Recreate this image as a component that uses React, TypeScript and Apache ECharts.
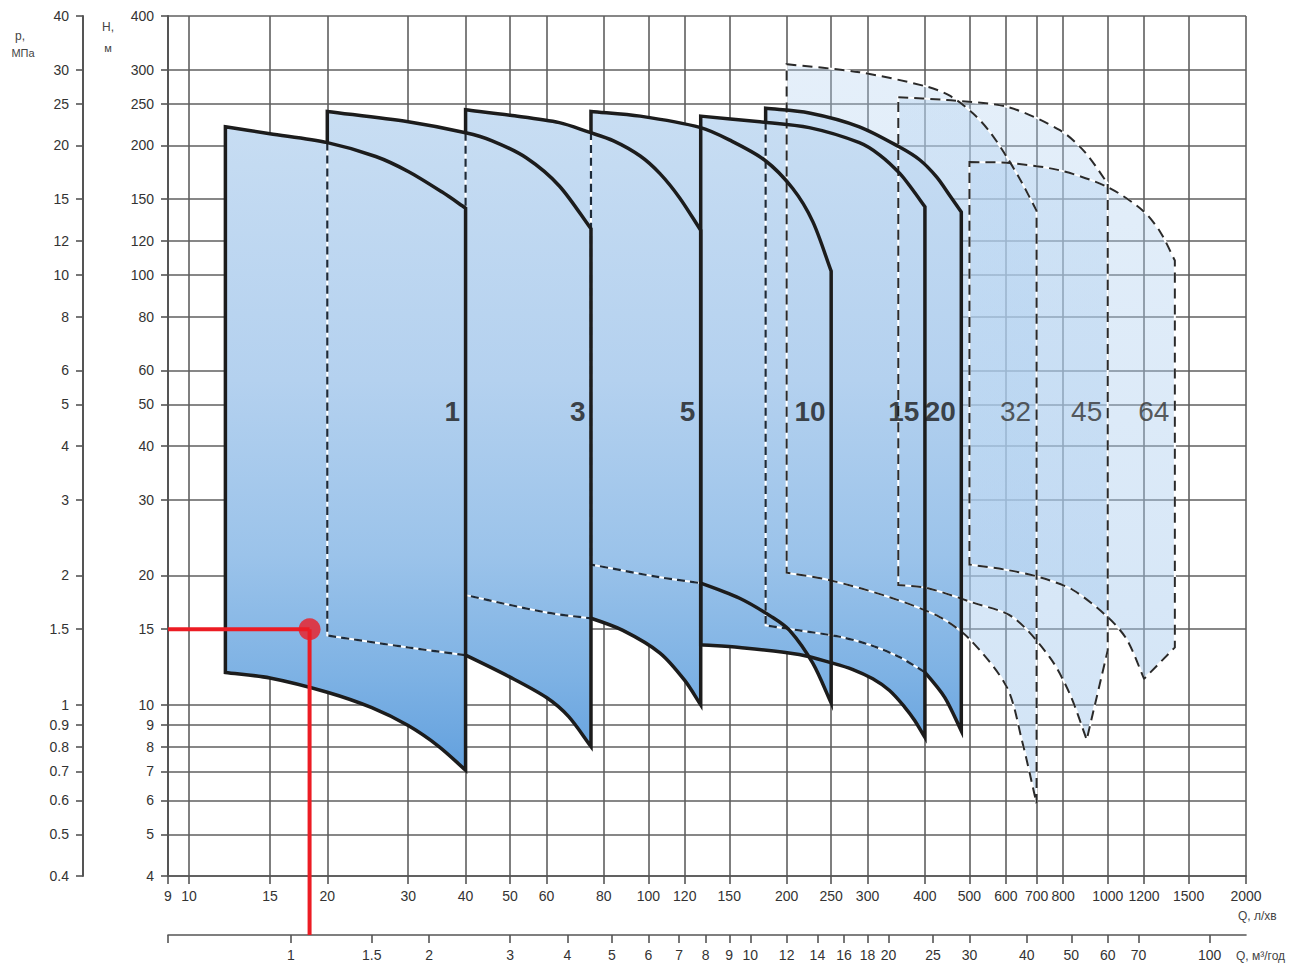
import React, { useEffect, useRef } from 'react';
import * as echarts from 'echarts';

// ---------- axes ----------
const qLpmTicks = [9, 10, 15, 20, 30, 40, 50, 60, 80, 100, 120, 150, 200, 250, 300, 400, 500, 600, 700, 800, 1000, 1200, 1500, 2000];
const qM3hTicks = [1, 1.5, 2, 3, 4, 5, 6, 7, 8, 9, 10, 12, 14, 16, 18, 20, 25, 30, 40, 50, 60, 70, 100];
const hTicks = [4, 5, 6, 7, 8, 9, 10, 15, 20, 30, 40, 50, 60, 80, 100, 120, 150, 200, 250, 300, 400];
const pTicks = [0.4, 0.5, 0.6, 0.7, 0.8, 0.9, 1, 1.5, 2, 3, 4, 5, 6, 8, 10, 12, 15, 20, 25, 30, 40];

const qLpmRange = [9, 2000];
const qM3hRange = [0.54, 120];
const hRange = [4, 400];
const pRange = [0.4, 40];

// ---------- pump fields: [Q l/min, H m] ----------
const pumpNames = ['1', '3', '5', '10', '15', '20', '32', '45', '64'];

const top1 = [[12, 221], [15, 213], [20, 203], [25.5, 188.5], [30, 174], [35.5, 156], [40, 143]];
const bottom1 = [[12, 11.9], [15, 11.55], [20, 10.7], [25, 9.85], [30, 8.95], [35, 8.0], [40, 7.05]];
const top3 = [[20, 240], [30, 227], [40, 214], [45.7, 205], [54.3, 187], [64, 161], [75, 128]];
const bottom3 = [[20, 14.5], [30, 13.6], [40, 13.05], [50, 11.6], [60, 10.4], [67, 9.4], [75, 8.0]];
const top5 = [[40, 242], [50, 235], [64, 226], [74, 215], [84, 205], [96, 189], [106, 172], [117, 151], [130, 127]];
const bottom5 = [[40, 18.0], [60, 16.4], [75, 15.9], [88, 14.9], [106, 13.2], [120, 11.4], [130, 10.0]];
const top10 = [[75, 240], [96, 234], [130, 220], [150, 206], [179, 185], [206, 159], [228, 133], [250, 102]];
const bottom10 = [[75, 21.2], [106, 19.8], [130, 19.2], [158, 17.7], [186, 16.0], [203, 14.9], [228, 12.5], [250, 10.1]];
const top15 = [[130, 234], [175, 227], [224, 220], [288, 203], [319, 190], [353, 172], [374, 159], [400, 144]];
const bottom15 = [[130, 13.8], [158, 13.6], [213, 13.1], [252, 12.5], [278, 12.1], [308, 11.5], [335, 10.8], [361, 9.9], [380, 9.2], [400, 8.4]];
const top20 = [[180, 244], [224, 238], [288, 221], [353, 198], [390, 185], [424, 169], [453, 153], [480, 140]];
const bottom20 = [[180, 15.3], [213, 14.9], [261, 14.4], [303, 13.8], [353, 12.9], [400, 11.9], [442, 10.4], [480, 8.7]];
const top32 = [[200, 309], [288, 296], [404, 274], [453, 261], [508, 238], [554, 215], [603, 188], [650, 164], [700, 141]];
const bottom32 = [[200, 20.3], [248, 19.5], [335, 17.8], [431, 16.0], [501, 14.2], [603, 11.0], [650, 8.3], [700, 5.9]];
const top45 = [[350, 259], [446, 255], [603, 246], [787, 217], [892, 193], [1000, 163]];
const bottom45 = [[350, 19.0], [404, 18.7], [508, 17.3], [621, 16.0], [748, 12.9], [827, 10.6], [900, 8.3], [1000, 13.4]];
const top64 = [[500, 183], [612, 182], [787, 175], [1000, 160], [1193, 141], [1300, 126], [1400, 108]];
const bottom64 = [[500, 21.2], [603, 20.6], [712, 19.8], [840, 18.5], [1000, 16.0], [1100, 14.2], [1200, 11.5], [1400, 13.6]];

const labelH = 48;
const operatingPoint = [18.3, 15];

// ---------- structure ----------
type Pt = number[];
interface Pump { name: string; top: Pt[]; bottom: Pt[]; light: boolean; leftSplitH: number | null; bottomSplit: number; vIndex: number | null; }

const pumps: Pump[] = [
  { name: pumpNames[0], top: top1, bottom: bottom1, light: false, leftSplitH: null, bottomSplit: 0, vIndex: null },
  { name: pumpNames[1], top: top3, bottom: bottom3, light: false, leftSplitH: top1[2][1], bottomSplit: 2, vIndex: null },
  { name: pumpNames[2], top: top5, bottom: bottom5, light: false, leftSplitH: top3[2][1], bottomSplit: 2, vIndex: null },
  { name: pumpNames[3], top: top10, bottom: bottom10, light: false, leftSplitH: top5[3][1], bottomSplit: 2, vIndex: null },
  { name: pumpNames[4], top: top15, bottom: bottom15, light: false, leftSplitH: null, bottomSplit: 0, vIndex: null },
  { name: pumpNames[5], top: top20, bottom: bottom20, light: false, leftSplitH: top15[1][1], bottomSplit: 5, vIndex: null },
  { name: pumpNames[6], top: top32, bottom: bottom32, light: true, leftSplitH: null, bottomSplit: 0, vIndex: null },
  { name: pumpNames[7], top: top45, bottom: bottom45, light: true, leftSplitH: null, bottomSplit: 0, vIndex: 6 },
  { name: pumpNames[8], top: top64, bottom: bottom64, light: true, leftSplitH: null, bottomSplit: 0, vIndex: 6 },
];

const SMOOTH = 0.3;
const AXIS2_OFFSET = 59;
const RED = '#ec1c24';
const TICK_FONT = "'Liberation Sans Narrow', 'Arial Narrow', 'Liberation Sans', Arial, sans-serif";
const NUM_FONT = "'Liberation Sans', Arial, sans-serif";

const darkFill = {
  type: 'linear', x: 0, y: 100, x2: 0, y2: 800, global: true,
  colorStops: [
    { offset: 0, color: '#c9def3' },
    { offset: 0.4, color: '#b4d1ef' },
    { offset: 0.65, color: '#9bc3ea' },
    { offset: 0.82, color: '#7eb2e4' },
    { offset: 1, color: '#5a9bdc' },
  ],
};
const lightFill = {
  type: 'linear', x: 0, y: 60, x2: 0, y2: 800, global: true,
  colorStops: [
    { offset: 0, color: 'rgba(180,210,240,0.35)' },
    { offset: 1, color: 'rgba(160,198,236,0.48)' },
  ],
};

function polygonPoints(p: Pump): Pt[] {
  const t = p.top, b = p.bottom;
  const pts: Pt[] = [t[0]];
  t.forEach((pt) => pts.push(pt));
  pts.push(t[t.length - 1]);
  for (let i = b.length - 1; i >= 0; i--) {
    pts.push(b[i]);
    if (i === b.length - 1 || i === 0 || i === p.vIndex) pts.push(b[i]);
  }
  return pts;
}

function solidPoints(p: Pump): Pt[] {
  const t = p.top, b = p.bottom, q0 = t[0][0];
  const pts: Pt[] = [[q0, p.leftSplitH as number], t[0], t[0]];
  for (let i = 1; i < t.length - 1; i++) pts.push(t[i]);
  pts.push(t[t.length - 1], t[t.length - 1]);
  pts.push(b[b.length - 1], b[b.length - 1]);
  for (let i = b.length - 2; i >= p.bottomSplit; i--) pts.push(b[i]);
  return pts;
}

function dashedPoints(p: Pump): Pt[] {
  const b = p.bottom, q0 = b[0][0];
  const pts: Pt[] = [[q0, p.leftSplitH as number], b[0], b[0]];
  for (let i = 1; i <= p.bottomSplit; i++) pts.push(b[i]);
  return pts;
}

function shapeSeries(pts: Pt[], closed: boolean, style: any, z: number) {
  return {
    type: 'custom',
    coordinateSystem: 'cartesian2d',
    xAxisIndex: 0,
    yAxisIndex: 0,
    silent: true,
    clip: false,
    z,
    data: pts,
    renderItem: (params: any, api: any) => {
      if (params.dataIndex !== 0) return null;
      return {
        type: closed ? 'polygon' : 'polyline',
        shape: { points: pts.map((pt) => api.coord(pt)), smooth: SMOOTH },
        style,
      };
    },
  };
}

const fmt = (v: number) => String(parseFloat(Number(v).toPrecision(6)));

function buildOption() {
  const series: any[] = [];
  const light = pumps.filter((p) => p.light);
  const dark = pumps.filter((p) => !p.light);
  const solidStyle = { fill: 'none', stroke: '#1c1c1c', lineWidth: 3.5, lineJoin: 'miter', miterLimit: 6 };
  const whiteUnder = { fill: 'none', stroke: '#ffffff', lineWidth: 2 };
  const darkDash = { fill: 'none', stroke: '#1d2a38', lineWidth: 2.2, lineDash: [8, 5] };
  const lightDash = { fill: 'none', stroke: '#2a2a2a', lineWidth: 2, lineDash: [10, 6] };

  light.forEach((p) => series.push(shapeSeries(polygonPoints(p), true, { fill: lightFill, stroke: 'none' }, 2)));
  dark.forEach((p) => series.push(shapeSeries(polygonPoints(p), true, { fill: darkFill, stroke: 'none' }, 3)));
  light.forEach((p) => {
    series.push(shapeSeries(polygonPoints(p), true, whiteUnder, 4));
    series.push(shapeSeries(polygonPoints(p), true, lightDash, 5));
  });
  dark.forEach((p) => {
    if (p.leftSplitH !== null) {
      series.push(shapeSeries(dashedPoints(p), false, whiteUnder, 6));
      series.push(shapeSeries(dashedPoints(p), false, darkDash, 7));
    }
  });
  dark.forEach((p) => {
    if (p.leftSplitH === null) series.push(shapeSeries(polygonPoints(p), true, solidStyle, 8));
    else series.push(shapeSeries(solidPoints(p), false, solidStyle, 8));
  });

  series.push({
    type: 'scatter',
    silent: true,
    z: 10,
    symbolSize: 1,
    itemStyle: { color: 'rgba(0,0,0,0)' },
    data: pumps.map((p) => ({
      value: [p.top[p.top.length - 1][0], labelH],
      name: p.name,
      label: p.light
        ? { fontWeight: 'normal', color: '#333333' }
        : { fontWeight: 'bold', color: '#1a1a1a' },
    })),
    label: {
      show: true,
      position: 'left',
      distance: 5,
      formatter: (prm: any) => prm.name,
      fontSize: 28,
      fontFamily: NUM_FONT,
    },
  });

  series.push({
    type: 'line',
    silent: true,
    z: 20,
    symbol: 'none',
    data: [[qLpmRange[0], operatingPoint[1]], operatingPoint],
    lineStyle: { color: RED, width: 4 },
  });
  series.push({
    type: 'scatter',
    silent: true,
    z: 22,
    symbolSize: 22,
    itemStyle: { color: RED },
    data: [operatingPoint],
  });

  const axisLineStyle = { color: '#555555', width: 1.6 };
  const labelBase = { fontSize: 14, color: '#333333', fontFamily: TICK_FONT, formatter: fmt };

  return {
    animation: false,
    backgroundColor: '#ffffff',
    grid: { left: 168, right: 59, top: 16, bottom: 93, containLabel: false, outerBoundsMode: 'none' },
    xAxis: [
      {
        type: 'log', logBase: 10, min: qLpmRange[0], max: qLpmRange[1], position: 'bottom',
        axisLine: { show: true, onZero: false, lineStyle: axisLineStyle },
        axisTick: { show: true, customValues: qLpmTicks, length: 8, lineStyle: axisLineStyle },
        axisLabel: { ...labelBase, customValues: qLpmTicks, margin: 13 },
        splitLine: { show: true, lineStyle: { color: '#5f5f5f', width: 1.6 } },
      },
      {
        type: 'log', logBase: 10, min: qM3hRange[0], max: qM3hRange[1], position: 'bottom', offset: AXIS2_OFFSET,
        axisLine: { show: true, onZero: false, lineStyle: axisLineStyle },
        axisTick: { show: true, customValues: [qM3hRange[0], ...qM3hTicks], length: 8, lineStyle: axisLineStyle },
        axisLabel: { ...labelBase, customValues: qM3hTicks, margin: 13 },
        splitLine: { show: false },
      },
    ],
    yAxis: [
      {
        type: 'log', logBase: 10, min: hRange[0], max: hRange[1], position: 'left',
        axisLine: { show: true, onZero: false, lineStyle: { color: '#555555', width: 2 } },
        axisTick: { show: true, customValues: hTicks, length: 7, lineStyle: axisLineStyle },
        axisLabel: { ...labelBase, customValues: hTicks, margin: 14 },
        splitLine: { show: true, lineStyle: { color: '#5f5f5f', width: 1.6 } },
      },
      {
        type: 'log', logBase: 10, min: pRange[0], max: pRange[1], position: 'left', offset: 85,
        axisLine: { show: true, onZero: false, lineStyle: { color: '#555555', width: 2 } },
        axisTick: { show: true, customValues: pTicks, length: 7, lineStyle: axisLineStyle },
        axisLabel: { ...labelBase, customValues: pTicks, margin: 14 },
        splitLine: { show: false },
      },
    ],
    series,
  };
}

export default function App() {
  const ref = useRef<HTMLDivElement>(null);
  useEffect(() => {
    document.body.style.margin = '0';
    const chart = echarts.init(ref.current as HTMLDivElement, null, { renderer: 'svg' });
    chart.setOption(buildOption() as any);

    const dot = chart.convertToPixel({ xAxisIndex: 0, yAxisIndex: 0 }, operatingPoint) as number[];
    const gridBottom = chart.convertToPixel({ yAxisIndex: 0 }, hRange[0]) as number;
    const nameStyle = (text: string, size: number) => ({
      text, fontSize: size, fontFamily: TICK_FONT, fill: '#444444', align: 'center', verticalAlign: 'middle',
    });
    chart.setOption({
      graphic: {
        elements: [
          { type: 'text', x: 20, y: 36, style: nameStyle('p,', 12) },
          { type: 'text', x: 23, y: 53, style: nameStyle('МПа', 11) },
          { type: 'text', x: 108, y: 27, style: nameStyle('H,', 12) },
          { type: 'text', x: 108, y: 48, style: nameStyle('м', 11) },
          { type: 'text', x: 1238, y: 916, style: { ...nameStyle('Q, л/хв', 12), align: 'left' } },
          { type: 'text', x: 1236, y: 956, style: { ...nameStyle('Q, м³/год', 12), align: 'left' } },
          {
            type: 'line', z: 50,
            shape: { x1: dot[0], y1: dot[1], x2: dot[0], y2: gridBottom + AXIS2_OFFSET },
            style: { stroke: RED, lineWidth: 4 },
          },
        ],
      },
    } as any);
    return () => chart.dispose();
  }, []);
  return <div ref={ref} style={{ width: 1305, height: 969 }} />;
}
